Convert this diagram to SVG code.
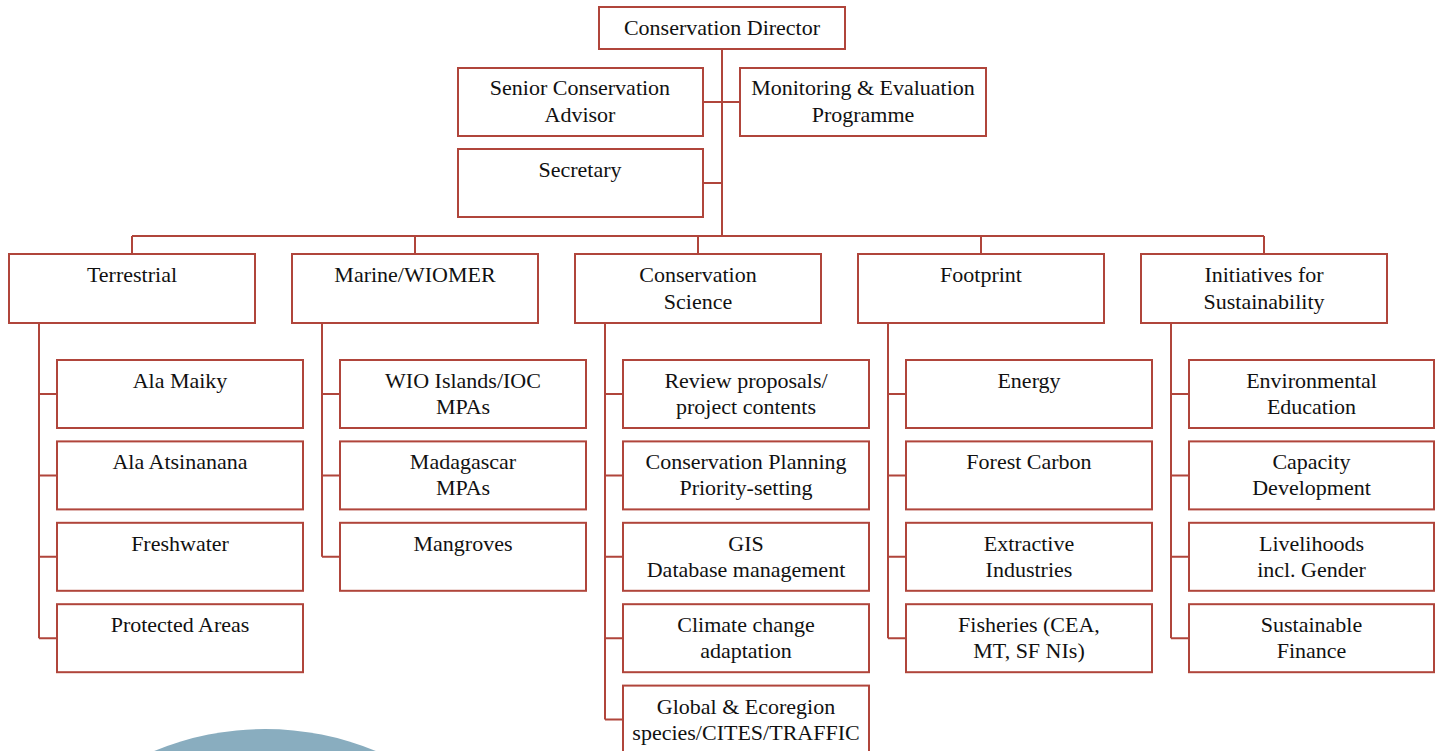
<svg xmlns="http://www.w3.org/2000/svg" width="1443" height="751" viewBox="0 0 1443 751">
<style>
.b{fill:#fff;stroke:#b0453b;stroke-width:2}
.c{fill:none;stroke:#b0453b;stroke-width:2}
text{font-family:"Liberation Serif","Times New Roman",serif;font-size:22px;fill:#111;text-anchor:middle}
</style>
<rect width="1443" height="751" fill="#fff"/>
<circle cx="265" cy="1019" r="290" fill="#89adbf"/>
<g id="connectors" class="c">
<path d="M722 49V236M703 102H740M703 183H722M132 236H1264M132 236V254M415 236V254M698 236V254M981 236V254M1264 236V254"/>
<path d="M39 323V638.2M39 394H57M39 475.4H57M39 556.8H57M39 638.2H57"/>
<path d="M322 323V556.8M322 394H340M322 475.4H340M322 556.8H340"/>
<path d="M605 323V719.6M605 394H623M605 475.4H623M605 556.8H623M605 638.2H623M605 719.6H623"/>
<path d="M888 323V638.2M888 394H906M888 475.4H906M888 556.8H906M888 638.2H906"/>
<path d="M1171 323V638.2M1171 394H1189M1171 475.4H1189M1171 556.8H1189M1171 638.2H1189"/>
</g>
<g id="director"><rect class="b" x="599" y="7" width="246" height="42"/><text x="722" y="35">Conservation Director</text></g>
<g id="senior"><rect class="b" x="458" y="68" width="245" height="68"/><text x="580" y="95">Senior Conservation</text><text x="580" y="122">Advisor</text></g>
<g id="monitoring"><rect class="b" x="740" y="68" width="246" height="68"/><text x="863" y="95">Monitoring &amp; Evaluation</text><text x="863" y="122">Programme</text></g>
<g id="secretary"><rect class="b" x="458" y="149" width="245" height="68"/><text x="580" y="177">Secretary</text></g>

<g id="terrestrial"><rect class="b" x="9" y="254" width="246" height="69"/><text x="132" y="282">Terrestrial</text></g>
<g id="marine"><rect class="b" x="292" y="254" width="246" height="69"/><text x="415" y="282">Marine/WIOMER</text></g>
<g id="science"><rect class="b" x="575" y="254" width="246" height="69"/><text x="698" y="282">Conservation</text><text x="698" y="309">Science</text></g>
<g id="footprint"><rect class="b" x="858" y="254" width="246" height="69"/><text x="981" y="282">Footprint</text></g>
<g id="initiatives"><rect class="b" x="1141" y="254" width="246" height="69"/><text x="1264" y="282">Initiatives for</text><text x="1264" y="309">Sustainability</text></g>

<g id="ala-maiky"><rect class="b" x="57" y="360" width="246" height="68"/><text x="180" y="388">Ala Maiky</text></g>
<g id="ala-atsinanana"><rect class="b" x="57" y="441.4" width="246" height="68"/><text x="180" y="469.4">Ala Atsinanana</text></g>
<g id="freshwater"><rect class="b" x="57" y="522.8" width="246" height="68"/><text x="180" y="550.8">Freshwater</text></g>
<g id="protected"><rect class="b" x="57" y="604.2" width="246" height="68"/><text x="180" y="632.2">Protected Areas</text></g>

<g id="wio"><rect class="b" x="340" y="360" width="246" height="68"/><text x="463" y="388">WIO Islands/IOC</text><text x="463" y="414">MPAs</text></g>
<g id="madagascar"><rect class="b" x="340" y="441.4" width="246" height="68"/><text x="463" y="469.4">Madagascar</text><text x="463" y="495.4">MPAs</text></g>
<g id="mangroves"><rect class="b" x="340" y="522.8" width="246" height="68"/><text x="463" y="550.8">Mangroves</text></g>

<g id="review"><rect class="b" x="623" y="360" width="246" height="68"/><text x="746" y="388">Review proposals/</text><text x="746" y="414">project contents</text></g>
<g id="planning"><rect class="b" x="623" y="441.4" width="246" height="68"/><text x="746" y="469.4">Conservation Planning</text><text x="746" y="495.4">Priority-setting</text></g>
<g id="gis"><rect class="b" x="623" y="522.8" width="246" height="68"/><text x="746" y="550.8">GIS</text><text x="746" y="576.8">Database management</text></g>
<g id="climate"><rect class="b" x="623" y="604.2" width="246" height="68"/><text x="746" y="632.2">Climate change</text><text x="746" y="658.2">adaptation</text></g>
<g id="global"><rect class="b" x="623" y="685.6" width="246" height="68"/><text x="746" y="713.6">Global &amp; Ecoregion</text><text x="746" y="739.6">species/CITES/TRAFFIC</text></g>

<g id="energy"><rect class="b" x="906" y="360" width="246" height="68"/><text x="1029" y="388">Energy</text></g>
<g id="forest"><rect class="b" x="906" y="441.4" width="246" height="68"/><text x="1029" y="469.4">Forest Carbon</text></g>
<g id="extractive"><rect class="b" x="906" y="522.8" width="246" height="68"/><text x="1029" y="550.8">Extractive</text><text x="1029" y="576.8">Industries</text></g>
<g id="fisheries"><rect class="b" x="906" y="604.2" width="246" height="68"/><text x="1029" y="632.2">Fisheries (CEA,</text><text x="1029" y="658.2">MT, SF NIs)</text></g>

<g id="education"><rect class="b" x="1189" y="360" width="245" height="68"/><text x="1311.5" y="388">Environmental</text><text x="1311.5" y="414">Education</text></g>
<g id="capacity"><rect class="b" x="1189" y="441.4" width="245" height="68"/><text x="1311.5" y="469.4">Capacity</text><text x="1311.5" y="495.4">Development</text></g>
<g id="livelihoods"><rect class="b" x="1189" y="522.8" width="245" height="68"/><text x="1311.5" y="550.8">Livelihoods</text><text x="1311.5" y="576.8">incl. Gender</text></g>
<g id="finance"><rect class="b" x="1189" y="604.2" width="245" height="68"/><text x="1311.5" y="632.2">Sustainable</text><text x="1311.5" y="658.2">Finance</text></g>
</svg>
